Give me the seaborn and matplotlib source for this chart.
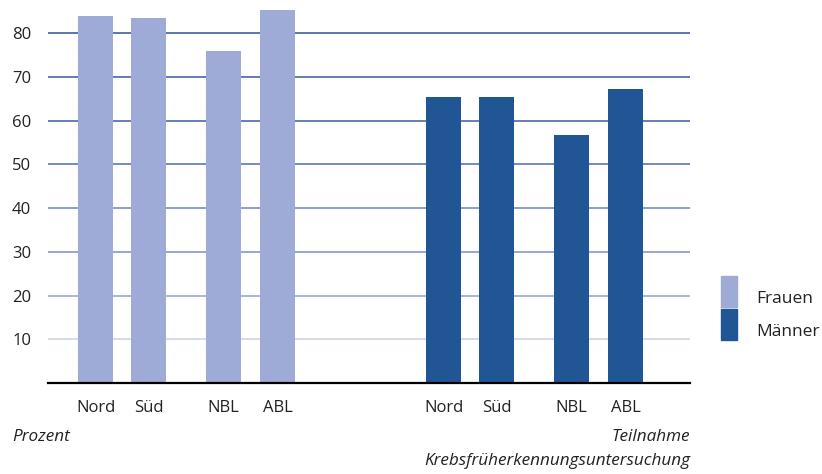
import matplotlib
matplotlib.use("Agg")
import matplotlib.pyplot as plt
import seaborn as sns
import pandas as pd
from matplotlib.patches import Rectangle

# ---- data ----
regionen = ["Nord", "Süd", "NBL", "ABL"]
geschlechter = ["Frauen", "Männer"]
frauen = [84.0, 83.5, 76.0, 85.3]
maenner = [65.3, 65.3, 56.8, 67.3]
yticks = [10, 20, 30, 40, 50, 60, 70, 80]

# ---- layout ----
inner = [0.0, 1.0, 128 / 53, 182 / 53]
group_off = 348 / 53
rows = []
for g, (name, vals) in enumerate(zip(geschlechter, [frauen, maenner])):
    for i, (reg, v) in enumerate(zip(regionen, vals)):
        rows.append({"pos": inner[i] + g * group_off, "Wert": v,
                     "Geschlecht": name, "Region": reg})
df = pd.DataFrame(rows)

colors = {"Frauen": "#9eabd7", "Männer": "#215694"}
grid_cols = ["#cdd4ea", "#9aa9d6", "#8597cd", "#7a8ec8",
             "#5b78b5", "#4b69a8", "#4866a6", "#3f5fa0"]

sns.set_theme(style="white")
plt.rcParams["font.family"] = ["Open Sans", "DejaVu Sans"]

fig = plt.figure(figsize=(8.22, 4.74), dpi=100)
ax = fig.add_axes([48 / 822, 1 - 383 / 474, (690 - 48) / 822, (383 - 4.6) / 474])

for yv, c in zip(yticks, grid_cols):
    ax.axhline(yv, color=c, lw=1.2, zorder=0)

sns.barplot(data=df, x="pos", y="Wert", hue="Geschlecht", native_scale=True,
            dodge=False, width=0.66, palette=colors, legend=False,
            saturation=1, linewidth=0, ax=ax, zorder=2)

ax.set_xlim(-47.5 / 53, 594.5 / 53)
ax.set_ylim(0, 86.5)
for s in ["top", "right", "left"]:
    ax.spines[s].set_visible(False)
ax.spines["bottom"].set_color("black")
ax.spines["bottom"].set_linewidth(1.6)
ax.spines["bottom"].set_zorder(3)

ax.set_yticks(yticks)
ax.set_yticklabels([str(v) for v in yticks], fontsize=12, color="#222222")
ax.tick_params(axis="y", length=0, pad=12)
ax.set_xticks(df["pos"].tolist())
ax.set_xticklabels(df["Region"].tolist(), fontsize=12, color="#222222")
ax.tick_params(axis="x", length=0, pad=12)
ax.set_xlabel("")
ax.set_ylabel("")
ax.grid(False)

fig.text(12 / 822, 1 - 437 / 474, "Prozent", style="italic", fontsize=12.3,
         ha="left", va="center", color="#222222")
fig.text(690 / 822, 1 - 437 / 474, "Teilnahme", style="italic", fontsize=12.3,
         ha="right", va="center", color="#222222")
fig.text(690 / 822, 1 - 461 / 474, "Krebsfrüherkennungsuntersuchung", style="italic",
         fontsize=12.3, ha="right", va="center", color="#222222")

# legend
for name, (y0, y1) in zip(geschlechter, [(276, 307), (309, 340)]):
    fig.patches.append(Rectangle((721 / 822, 1 - y1 / 474), 16 / 822, (y1 - y0) / 474,
                                 transform=fig.transFigure, color=colors[name]))
    fig.text(756 / 822, 1 - (y1 - 8) / 474, name, fontsize=12.5, ha="left",
             va="center", color="#222222")

fig.savefig("out.png", dpi=100)
